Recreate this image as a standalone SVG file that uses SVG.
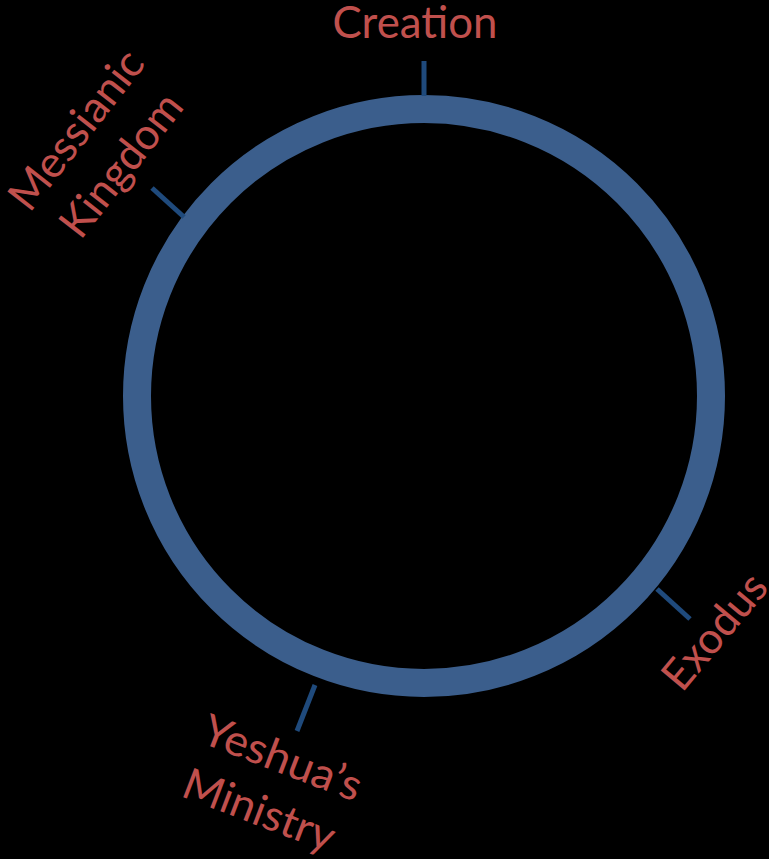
<svg xmlns="http://www.w3.org/2000/svg" width="769" height="859" viewBox="0 0 769 859">
<style>
.lbl{font-family:Lato,"Open Sans","Liberation Sans",sans-serif;font-size:43.5px;fill:#C0504D;text-anchor:middle}
.tick{stroke:#1F4A7C;stroke-width:5;fill:none}
</style>
<rect width="769" height="859" fill="#000"/>
<g id="cycle">
<circle cx="424" cy="396" r="287" fill="none" stroke="#3B5E8C" stroke-width="28"/>
</g>
<g id="connectors">
<line class="tick" x1="424" y1="61" x2="424" y2="96"/>
<line class="tick" x1="152" y1="188" x2="184" y2="217"/>
<line class="tick" x1="657" y1="589" x2="690" y2="619"/>
<line class="tick" x1="315" y1="685" x2="297" y2="731"/>
</g>
<g id="creation">
<text class="lbl" x="415" y="38" textLength="165" lengthAdjust="spacingAndGlyphs">Creation</text>
</g>
<g id="messianic-kingdom" transform="translate(88,139) rotate(-52)">
<text class="lbl" x="0" y="0" textLength="190" lengthAdjust="spacingAndGlyphs">Messianic</text>
<text class="lbl" x="0" y="57" textLength="170" lengthAdjust="spacingAndGlyphs">Kingdom</text>
</g>
<g id="exodus" transform="translate(726,641) rotate(-50)">
<text class="lbl" x="0" y="0" textLength="137" lengthAdjust="spacingAndGlyphs">Exodus</text>
</g>
<g id="yeshuas-ministry" transform="translate(277,772) rotate(21)">
<text class="lbl" x="0" y="0" textLength="167" lengthAdjust="spacingAndGlyphs">Yeshua’s</text>
<text class="lbl" x="-3" y="57" textLength="159" lengthAdjust="spacingAndGlyphs">Ministry</text>
</g>
</svg>
